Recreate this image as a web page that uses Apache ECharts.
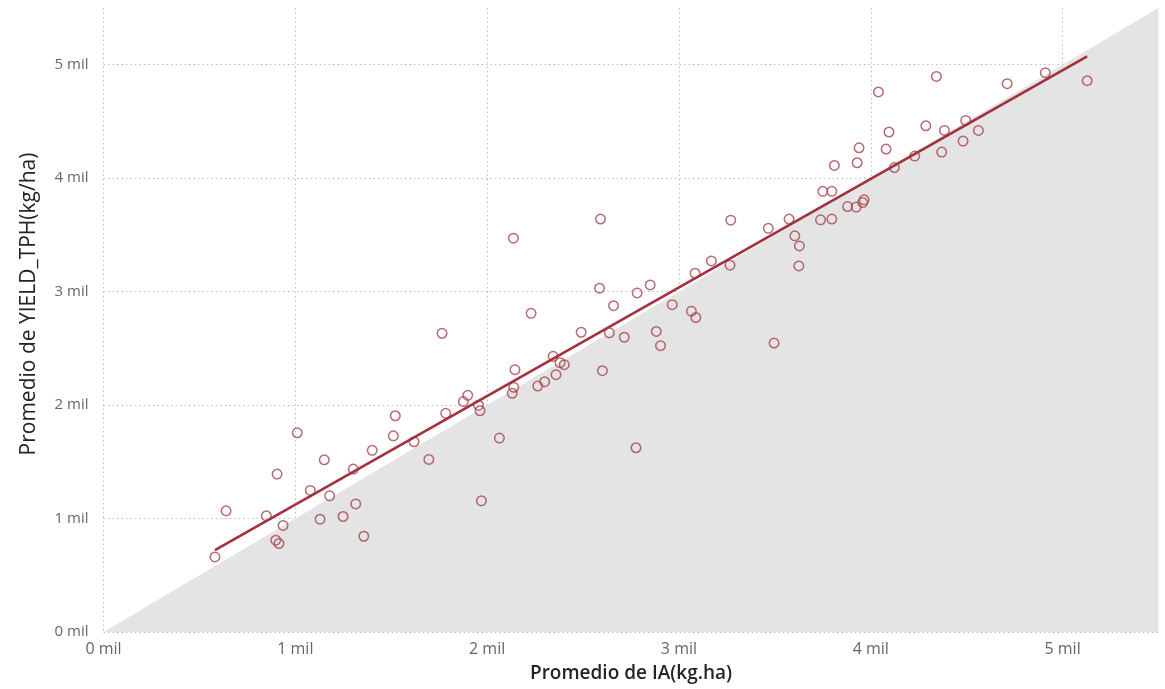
<!DOCTYPE html>
<html>
<head>
<meta charset="utf-8">
<script src="https://cdn.jsdelivr.net/npm/echarts@6/dist/echarts.min.js"></script>
<style>
html,body{margin:0;padding:0;background:#fff;}
#chart{width:1165px;height:689px;}
</style>
</head>
<body>
<div id="chart"></div>
<script>
// IA (kg.ha) values, x
const iaValues = [581,639,849,905,898,915,936,1010,1078,1151,1129,1179,1249,1302,1315,1357,1401,1511,1521,1619,1696,1765,1784,1876,1899,1955,1963,1970,2064,2137,2139,2131,2145,2229,2264,2300,2344,2359,2380,2402,2490,2586,2591,2601,2637,2659,2715,2782,2776,2850,2882,2904,2965,3065,3084,3088,3169,3266,3270,3466,3496,3574,3604,3628,3625,3738,3750,3797,3797,3810,3879,3924,3929,3939,3958,3965,4040,4080,4095,4123,4229,4287,4342,4370,4384,4481,4495,4561,4711,4910,5128];
// YIELD_TPH (kg/ha) values, y
const yieldValues = [662,1068,1024,1392,809,780,939,1756,1248,1518,994,1200,1018,1436,1129,844,1601,1729,1906,1677,1521,2633,1927,2031,2086,1999,1950,1156,1709,3471,2157,2104,2312,2809,2168,2206,2430,2268,2374,2356,2642,3030,3640,2303,2637,2876,2598,2989,1624,3059,2649,2524,2885,2828,3162,2772,3271,3233,3630,3558,2547,3640,3492,3403,3227,3633,3884,3884,3640,4112,3750,3745,4136,4268,3785,3809,4760,4257,4407,4094,4195,4462,4897,4230,4421,4327,4509,4421,4833,4930,4859];
// trend line end points
const trendLine = [[581,721],[5128,5074]];
// identity reference (y = x) shaded below
const identityLine = [[0,0],[5500,5500]];
// axis ticks
const axisMin = 0, axisMax = 5500, tickStep = 1000;

const points = iaValues.map((x,i)=>[x, yieldValues[i]]);
const fmt = v => (v/1000) + ' mil';
const fontFam = '"Open Sans", "Noto Sans", sans-serif';
const gridLine = {show:true, showMaxLine:false, lineStyle:{type:[1.5,3], color:'#bdbdbd', width:1}};

const chart = echarts.init(document.getElementById('chart'), null, {renderer:'canvas'});
chart.setOption({
  animation:false,
  backgroundColor:'#ffffff',
  grid:{left:103.5, right:6.5, top:8, bottom:57, containLabel:false},
  xAxis:{
    type:'value', min:axisMin, max:axisMax, interval:tickStep,
    name:'Promedio de IA(kg.ha)', nameLocation:'middle', nameGap:32,
    nameTextStyle:{color:'#252423', fontSize:19, fontWeight:600, fontFamily:fontFam},
    axisLine:{show:false}, axisTick:{show:false},
    axisLabel:{formatter:fmt, color:'#666666', fontSize:16, fontFamily:fontFam, margin:9, showMaxLabel:false},
    splitLine:gridLine
  },
  yAxis:{
    type:'value', min:axisMin, max:axisMax, interval:tickStep,
    name:'Promedio de YIELD_TPH(kg/ha)', nameLocation:'middle', nameGap:64,
    nameTextStyle:{color:'#252423', fontSize:21, fontWeight:500, fontFamily:fontFam, padding:[0,0,0,32]},
    axisLine:{show:false}, axisTick:{show:false},
    axisLabel:{formatter:fmt, color:'#666666', fontSize:15, fontFamily:fontFam, margin:15, showMaxLabel:false},
    splitLine:gridLine
  },
  series:[
    {
      type:'line', data:identityLine, symbol:'none', silent:true, z:1,
      lineStyle:{width:0, color:'#e4e4e4'},
      areaStyle:{color:'#e4e4e4', opacity:1}
    },
    {
      type:'scatter', data:points, symbol:'circle', symbolSize:9.5, z:3,
      itemStyle:{color:'rgba(255,255,255,0)', borderColor:'#a9444f', borderWidth:1.5}
    },
    {
      type:'line', data:trendLine, symbol:'none', z:4,
      lineStyle:{color:'#a3303c', width:2.6}
    }
  ]
});
</script>
</body>
</html>
